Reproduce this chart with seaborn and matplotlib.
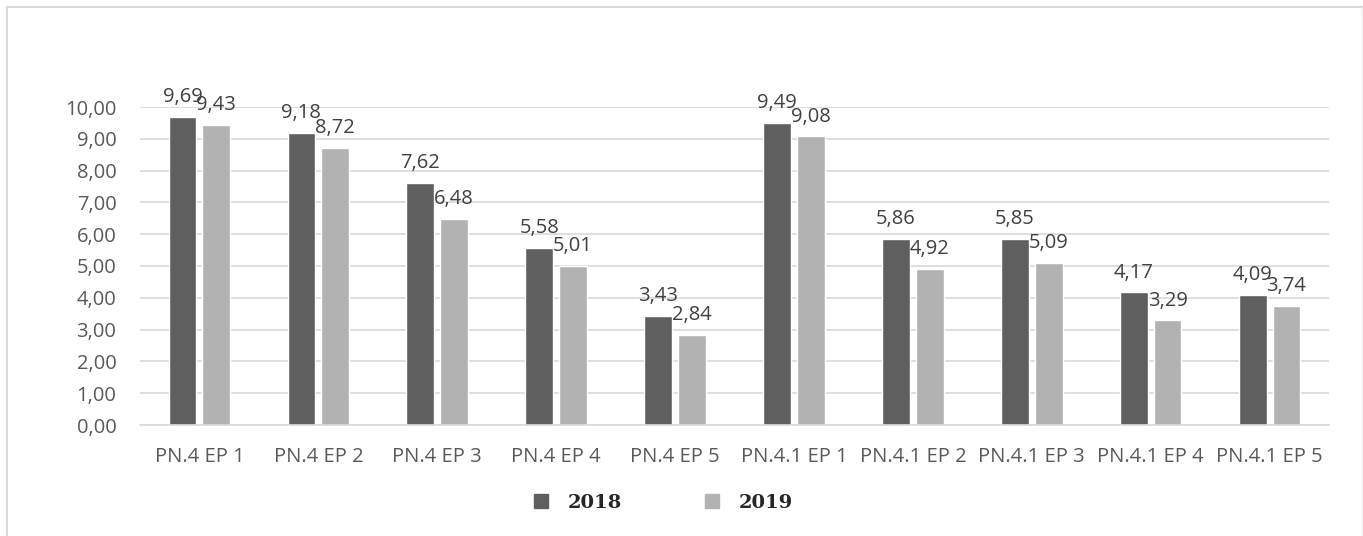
import pandas as pd
import matplotlib.pyplot as plt
import seaborn as sns
from matplotlib.lines import Line2D

# ==========================================
# Data
# ==========================================

categories = ["PN.4 EP 1", "PN.4 EP 2", "PN.4 EP 3", "PN.4 EP 4", "PN.4 EP 5",
              "PN.4.1 EP 1", "PN.4.1 EP 2", "PN.4.1 EP 3", "PN.4.1 EP 4", "PN.4.1 EP 5"]
values_2018 = [9.69, 9.18, 7.62, 5.58, 3.43, 9.49, 5.86, 5.85, 4.17, 4.09]
values_2019 = [9.43, 8.72, 6.48, 5.01, 2.84, 9.08, 4.92, 5.09, 3.29, 3.74]
years = ["2018", "2019"]
y_ticks = [0, 1, 2, 3, 4, 5, 6, 7, 8, 9, 10]

df = pd.DataFrame({
    "category": categories * 2,
    "year": [years[0]] * len(categories) + [years[1]] * len(categories),
    "value": values_2018 + values_2019,
})

palette = {"2018": "#5f5f5f", "2019": "#b2b2b2"}

# ==========================================
# Plot
# ==========================================

sns.set_style("white")
plt.rcParams["font.family"] = ["Open Sans", "DejaVu Sans"]

fig = plt.figure(figsize=(13.63, 5.36), dpi=100)
ax = fig.add_axes([140 / 1363, 1 - 425 / 536, 1189 / 1363, 318 / 536])

sns.barplot(data=df, x="category", y="value", hue="year", palette=palette,
            width=0.57, gap=0.18, order=categories, hue_order=years,
            ax=ax, legend=False, saturation=1)

for cont in ax.containers:
    labels = [f"{b.get_height():.2f}".replace(".", ",") for b in cont]
    ax.bar_label(cont, labels=labels, padding=7, fontsize=14.5, color="#404040")

ax.set_ylim(0, 10)
ax.set_yticks(y_ticks)
ax.set_yticklabels([f"{t:.2f}".replace(".", ",") for t in y_ticks])
ax.set_xlim(-0.5, len(categories) - 0.5)
ax.yaxis.grid(True, color="#d9d9d9", linewidth=1.2)
ax.set_axisbelow(True)
for s in ["top", "right", "left"]:
    ax.spines[s].set_visible(False)
ax.spines["bottom"].set_color("#d9d9d9")
ax.spines["bottom"].set_linewidth(1.2)
ax.tick_params(axis="y", length=0, labelsize=14.5, labelcolor="#595959", pad=17)
ax.tick_params(axis="x", length=0, labelsize=14.5, labelcolor="#595959", pad=16)
ax.set_xlabel("")
ax.set_ylabel("")

# Legend
handles = [Line2D([], [], marker="s", linestyle="", markersize=10,
                  color=palette[y]) for y in years]
fig.legend(handles, years, loc="center", bbox_to_anchor=(661 / 1363, 1 - 503 / 536),
           ncol=2, frameon=False, columnspacing=4.0, handletextpad=0.8,
           handlelength=1.2,
           prop={"family": "DejaVu Serif", "weight": "bold", "size": 14})

# Outer border
fig.add_artist(Line2D([7 / 1363, 7 / 1363], [0, 1 - 7 / 536], color="#d9d9d9", lw=1.5))
fig.add_artist(Line2D([7 / 1363, 1362 / 1363], [1 - 7 / 536, 1 - 7 / 536], color="#d9d9d9", lw=1.5))
fig.add_artist(Line2D([1362 / 1363, 1362 / 1363], [0, 1 - 7 / 536], color="#eeeeee", lw=1))

plt.savefig("out.png", dpi=100)
plt.close()
